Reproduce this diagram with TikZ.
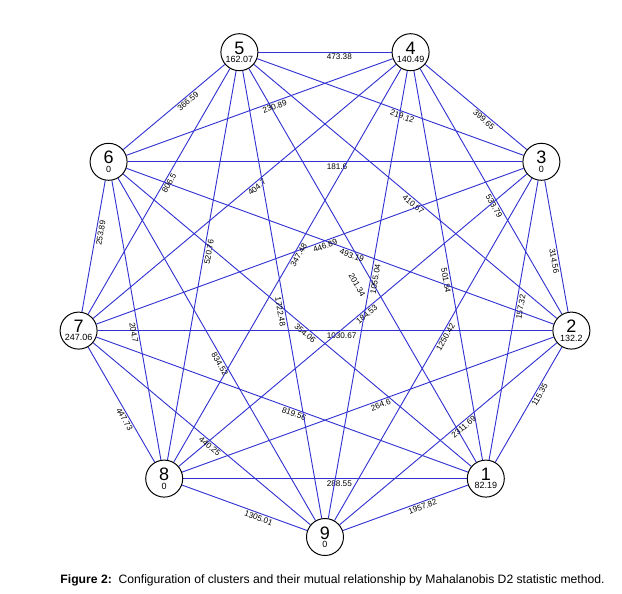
\documentclass[tikz,border=0pt]{standalone}
\usepackage{fontspec}
\setmainfont{Liberation Sans}
\usepackage[svgnames]{xcolor}
\usepackage{tikz}
\usetikzlibrary{backgrounds}
\definecolor{lblue}{RGB}{50,50,210}
\tikzstyle{none}=[inner sep=0pt]
\tikzstyle{cluster}=[circle,fill=white,draw=black,line width=0.7pt,minimum size=0.925cm,inner sep=0pt,align=center,font=\fontsize{6.4}{6}\selectfont]
\tikzstyle{link}=[-,draw=lblue,line width=0.65pt]
\tikzstyle{dist}=[sloped,pos=0.5,anchor=north west,inner sep=1pt,font=\fontsize{5.8}{6}\selectfont]
\newcommand{\clus}[2]{{\fontsize{12.8}{11}\selectfont #1}\\{#2}}
\pgfdeclarelayer{edgelayer}
\pgfdeclarelayer{nodelayer}
\pgfsetlayers{edgelayer,nodelayer,main}

\begin{document}
\begin{tikzpicture}
	\begin{pgfonlayer}{nodelayer}
		\node [style=cluster] (c1) at (4.02, -4.79) {\clus{1}{82.19}};
		\node [style=cluster] (c2) at (6.16, -1.09) {\clus{2}{132.2}};
		\node [style=cluster] (c3) at (5.41, 3.13) {\clus{3}{0}};
		\node [style=cluster] (c4) at (2.14, 5.87) {\clus{4}{140.49}};
		\node [style=cluster] (c5) at (-2.14, 5.87) {\clus{5}{162.07}};
		\node [style=cluster] (c6) at (-5.41, 3.13) {\clus{6}{0}};
		\node [style=cluster] (c7) at (-6.16, -1.09) {\clus{7}{247.06}};
		\node [style=cluster] (c8) at (-4.02, -4.79) {\clus{8}{0}};
		\node [style=cluster] (c9) at (0, -6.25) {\clus{9}{0}};
		\node [style=none, anchor=base west] (cap) at (-6.62, -7.4) {\fontsize{8.65}{10}\selectfont\textbf{Figure 2:}\ \ Configuration of clusters and their mutual relationship by Mahalanobis D2 statistic method.};
	\end{pgfonlayer}
	\begin{pgfonlayer}{edgelayer}
		\fill [white] (-8.125, -7.65) rectangle (7.425, 7.175);
		% from cluster 1
		\draw [style=link] (c1) to node [style=dist] {115.35} (c2);
		\draw [style=link] (c1) to node [style=dist] {157.32} (c3);
		\draw [style=link] (c1) to node [style=dist] {501.84} (c4);
		\draw [style=link] (c1) to node [style=dist, yshift=-7pt] {201.34} (c5);
		\draw [style=link] (c1) to node [style=dist] {354.06} (c6);
		\draw [style=link] (c1) to node [style=dist] {819.56} (c7);
		\draw [style=link] (c1) to node [style=dist] {288.55} (c8);
		\draw [style=link] (c1) to node [style=dist] {1957.82} (c9);
		% from cluster 2
		\draw [style=link] (c2) to node [style=dist] {314.56} (c3);
		\draw [style=link] (c2) to node [style=dist] {533.79} (c4);
		\draw [style=link] (c2) to node [style=dist] {410.67} (c5);
		\draw [style=link] (c2) to node [style=dist] {493.19} (c6);
		\draw [style=link] (c2) to node [style=dist] {1030.67} (c7);
		\draw [style=link] (c2) to node [style=dist] {264.6} (c8);
		\draw [style=link] (c2) to node [style=dist] {2311.69} (c9);
		% from cluster 3
		\draw [style=link] (c3) to node [style=dist] {399.65} (c4);
		\draw [style=link] (c3) to node [style=dist] {219.12} (c5);
		\draw [style=link] (c3) to node [style=dist] {181.6} (c6);
		\draw [style=link] (c3) to node [style=dist] {446.89} (c7);
		\draw [style=link] (c3) to node [style=dist] {184.53} (c8);
		\draw [style=link] (c3) to node [style=dist] {1250.42} (c9);
		% from cluster 4
		\draw [style=link] (c4) to node [style=dist] {473.38} (c5);
		\draw [style=link] (c4) to node [style=dist] {230.89} (c6);
		\draw [style=link] (c4) to node [style=dist] {404.7} (c7);
		\draw [style=link] (c4) to node [style=dist] {347.48} (c8);
		\draw [style=link] (c4) to node [style=dist] {1055.04} (c9);
		% from cluster 5
		\draw [style=link] (c5) to node [style=dist] {366.59} (c6);
		\draw [style=link] (c5) to node [style=dist] {806.5} (c7);
		\draw [style=link] (c5) to node [style=dist] {520.76} (c8);
		\draw [style=link] (c5) to node [style=dist] {1722.48} (c9);
		% from cluster 6
		\draw [style=link] (c6) to node [style=dist] {253.89} (c7);
		\draw [style=link] (c6) to node [style=dist] {204.7} (c8);
		\draw [style=link] (c6) to node [style=dist] {834.52} (c9);
		% from cluster 7
		\draw [style=link] (c7) to node [style=dist] {447.73} (c8);
		\draw [style=link] (c7) to node [style=dist] {440.25} (c9);
		% from cluster 8
		\draw [style=link] (c8) to node [style=dist] {1305.01} (c9);
	\end{pgfonlayer}
	\useasboundingbox (-8.125, -7.65) rectangle (7.425, 7.175);
\end{tikzpicture}
\end{document}
